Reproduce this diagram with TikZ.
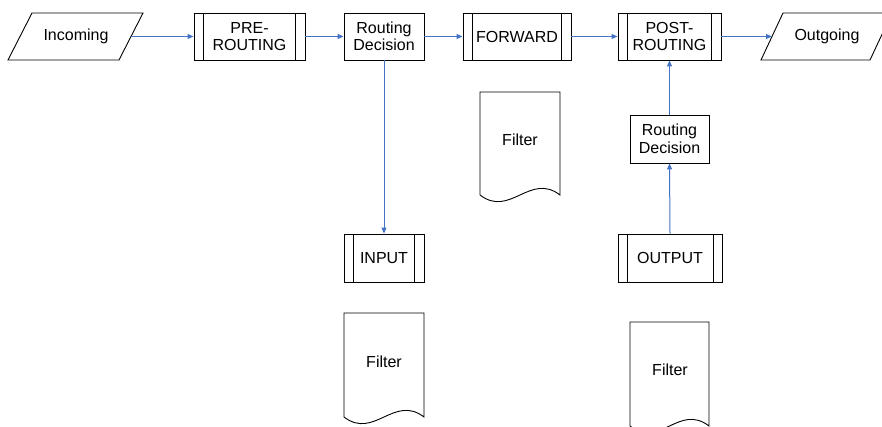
\documentclass[tikz,border=0pt]{standalone}
\usepackage{fontspec}
\setmainfont{Liberation Sans}
\usetikzlibrary{arrows.meta}
\definecolor{arrowblue}{HTML}{4472C4}
\begin{document}
\begin{tikzpicture}[x=1pt,y=-1pt,
  lbl/.style={font=\fontsize{16}{17.5}\selectfont, align=center, inner sep=0pt},
  box/.style={lbl, draw=black, line width=0.9pt, minimum height=47pt},
  outline/.style={draw=black, line width=0.9pt},
  conn/.style={draw=arrowblue, line width=1pt, -{Triangle[length=6pt,width=5pt]}}]
\useasboundingbox (0,0) rectangle (882,427);
% parallelograms
\draw[outline] (32,13) -- (143,13) -- (119,60) -- (8,60) -- cycle;
\node[lbl] (in) at (76,36) {Incoming};
\coordinate (inR) at (131,36.5);
\draw[outline] (783,13) -- (892,13) -- (870,60) -- (761,60) -- cycle;
\node[lbl] (out) at (827,36) {Outgoing};
\coordinate (outL) at (772,36.5);
% process boxes
\node[box, minimum width=111pt] (pre) at (249.5,36.5) {PRE-\\ROUTING};
\node[box, minimum width=80pt] (rd1) at (384,36.5) {Routing\\Decision};
\node[box, minimum width=108pt] (fwd) at (517,36.5) {FORWARD};
\node[box, minimum width=103pt] (post) at (669.5,36.5) {POST-\\ROUTING};
\node[box, minimum width=79pt, minimum height=48pt] (rd2) at (669.5,139) {Routing\\Decision};
\node[box, minimum width=80pt, minimum height=48pt] (inp) at (384,258) {INPUT};
\node[box, minimum width=104pt, minimum height=48pt] (outp) at (670,258) {OUTPUT};
\foreach \n/\d in {pre/10,fwd/10,post/10,inp/10,outp/9.5}{
  \draw[outline] ([xshift=\d pt]\n.north west) -- ([xshift=\d pt]\n.south west);
  \draw[outline] ([xshift=-\d pt]\n.north east) -- ([xshift=-\d pt]\n.south east);
}
% filters (document shapes)
\draw[outline] (480,195) -- (480,92) -- (560,92) -- (560,195)
  .. controls (530,172) and (510,218) .. (480,195);
\node[lbl] (f1) at (520,140) {Filter};
\draw[outline] (344,417) -- (344,313) -- (424,313) -- (424,417)
  .. controls (394,394) and (374,440) .. (344,417);
\node[lbl] (f2) at (384,362) {Filter};
\draw[outline] (630,426) -- (630,322) -- (709,322) -- (709,426)
  .. controls (679,403) and (660,449) .. (630,426);
\node[lbl] (f3) at (670,370) {Filter};
% connectors
\draw[conn] (inR) -- (pre.west);
\draw[conn] (pre.east) -- (rd1.west);
\draw[conn] (rd1.east) -- (fwd.west);
\draw[conn] (fwd.east) -- (post.west);
\draw[conn] (post.east) -- (outL);
\draw[conn] (rd1.south) -- (inp.north);
\draw[conn] (outp.north) -- (rd2.south);
\draw[conn] (rd2.north) -- (post.south);
\end{tikzpicture}
\end{document}
